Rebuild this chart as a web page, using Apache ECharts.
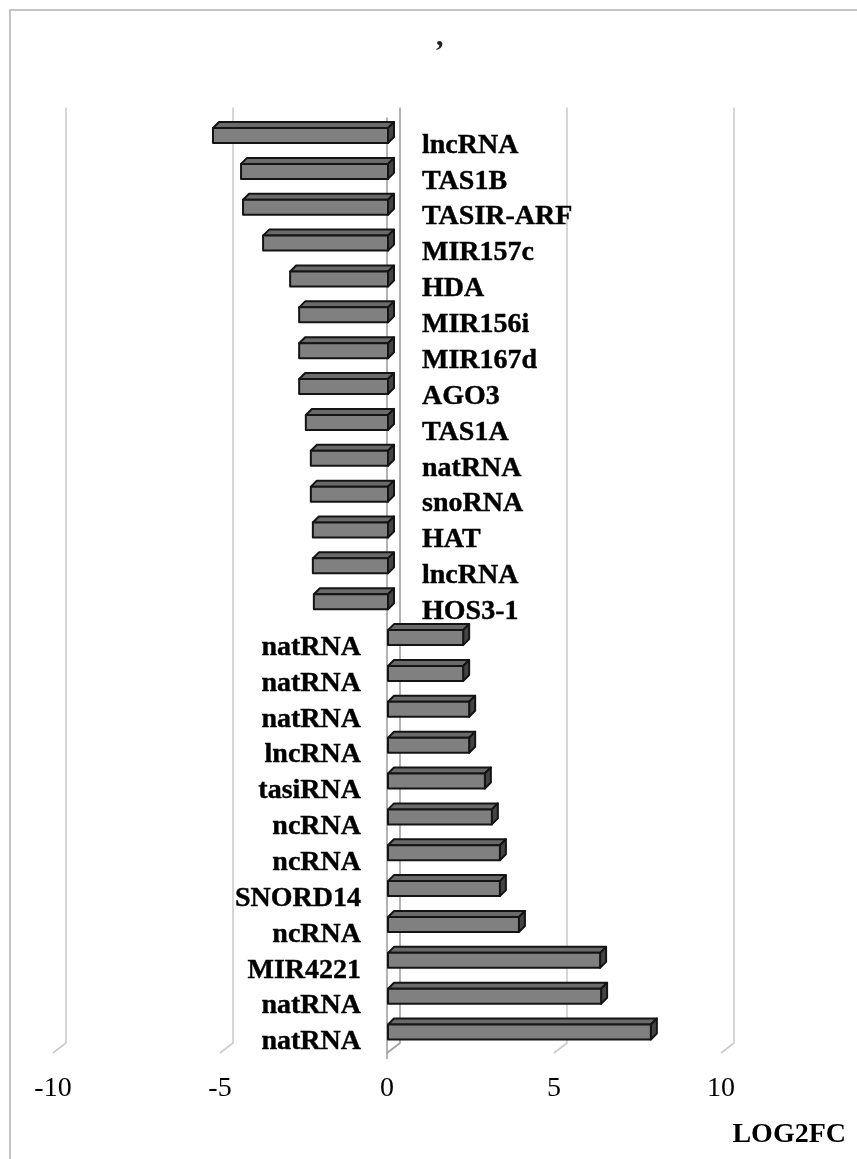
<!DOCTYPE html>
<html>
<head>
<meta charset="utf-8">
<script src="https://cdn.jsdelivr.net/npm/echarts@6/dist/echarts.min.js"></script>
<style>
html,body{margin:0;padding:0;background:#fff;}
#chart{width:857px;height:1159px;}
</style>
</head>
<body>
<div id="chart"></div>
<script>
// ---- data ----
var categories = ['lncRNA','TAS1B','TASIR-ARF','MIR157c','HDA','MIR156i','MIR167d','AGO3','TAS1A','natRNA','snoRNA','HAT','lncRNA','HOS3-1',
  'natRNA','natRNA','natRNA','lncRNA','tasiRNA','ncRNA','ncRNA','SNORD14','ncRNA','MIR4221','natRNA','natRNA'];
var log2fc = [-5.24,-4.40,-4.34,-3.74,-2.93,-2.66,-2.66,-2.66,-2.46,-2.31,-2.31,-2.25,-2.25,-2.22,
  2.25,2.25,2.43,2.43,2.90,3.11,3.35,3.35,3.92,6.35,6.38,7.87];
var tickValues = [-10,-5,0,5,10];
var axisTitle = 'LOG2FC';
var chartTitle = ',';

var FONT = '"Liberation Serif","Times New Roman",serif';
var DX = 6, DY = -6;      // bar depth
var BDX = 13, BDY = -10;  // wall depth

var chart = echarts.init(document.getElementById('chart'), null, {renderer:'canvas'});

var barData = log2fc.map(function(v,i){ return [v,i]; });
var gridData = tickValues.map(function(v){ return [v]; });

function renderGrid(params, api){
  var cs = params.coordSys;
  var p = api.coord([api.value(0), 0]);
  var x = p[0];
  var bottom = cs.y + cs.height + 3;
  var children = [];
  children.push({type:'polyline', shape:{points:[[x+BDX, cs.y-10],[x+BDX, bottom+BDY],[x, bottom]]},
    style:{stroke: api.value(0)===0 ? '#a0a0a0' : '#cccccc', lineWidth:1.6, fill:null}, silent:true});
  if (api.value(0) === 0) {
    children.push({type:'line', shape:{x1:x, y1:cs.y, x2:x, y2:bottom+6},
      style:{stroke:'#a0a0a0', lineWidth:1.6}, silent:true});
  }
  return {type:'group', children:children};
}

function renderBar(params, api){
  var v = api.value(0);
  var i = api.value(1);
  var p0 = api.coord([0, i]);
  var p1 = api.coord([v, i]);
  var h = 15;
  var yt = p0[1] - h/2, yb = p0[1] + h/2;
  var xl = Math.min(p0[0], p1[0]) + 1, xr = Math.max(p0[0], p1[0]) + 1;
  var stroke = {stroke:'#141414', lineWidth:2, lineJoin:'round'};
  var children = [
    {type:'polygon', shape:{points:[[xl,yt],[xr,yt],[xr+DX,yt+DY],[xl+DX,yt+DY]]},
      style:Object.assign({fill:'#6a6a6a'}, stroke)},
    {type:'polygon', shape:{points:[[xr,yt],[xr+DX,yt+DY],[xr+DX,yb+DY],[xr,yb]]},
      style:Object.assign({fill:'#444444'}, stroke)},
    {type:'rect', shape:{x:xl, y:yt, width:xr-xl, height:h},
      style:Object.assign({fill:'#808080'}, stroke)}
  ];
  var lbl = categories[i];
  var tstyle = {text:lbl, fill:'#000', font:'bold 28px ' + FONT, verticalAlign:'middle',
    stroke:'#000', lineWidth:0.4};
  if (v < 0) {
    children.push({type:'text', x:p0[0]+35, y:p0[1]+10, style:Object.assign({align:'left'}, tstyle)});
  } else {
    children.push({type:'text', x:p0[0]-26, y:p0[1]+10, style:Object.assign({align:'right'}, tstyle)});
  }
  return {type:'group', children:children};
}

chart.setOption({
  animation:false,
  backgroundColor:'#fff',
  graphic:[
    {type:'rect', shape:{x:10, y:10, width:900, height:1200}, style:{fill:null, stroke:'#c4c4c4', lineWidth:2}, silent:true},
    {type:'text', left:436, top:22, style:{text:chartTitle, fill:'#222', font:'bold 30px ' + FONT}},
    {type:'text', right:11, top:1121, style:{text:axisTitle, fill:'#000', font:'bold 28px ' + FONT}}
  ],
  grid:{left:53, right:136, top:117.6, height:932.4},
  xAxis:{
    type:'value', min:-10, max:10, interval:5,
    axisLine:{show:false}, axisTick:{show:false}, splitLine:{show:false},
    axisLabel:{margin:25, color:'#000', fontFamily:FONT, fontSize:28, fontWeight:'normal'}
  },
  yAxis:{
    type:'category', data:categories.map(function(c,i){return i;}), inverse:true,
    axisLine:{show:false}, axisTick:{show:false}, axisLabel:{show:false}, splitLine:{show:false}
  },
  series:[
    {type:'custom', renderItem:renderGrid, data:gridData, encode:{x:0}, z:1, silent:true},
    {type:'custom', renderItem:renderBar, data:barData, encode:{x:0, y:1}, z:2, silent:true}
  ]
});
</script>
</body>
</html>
